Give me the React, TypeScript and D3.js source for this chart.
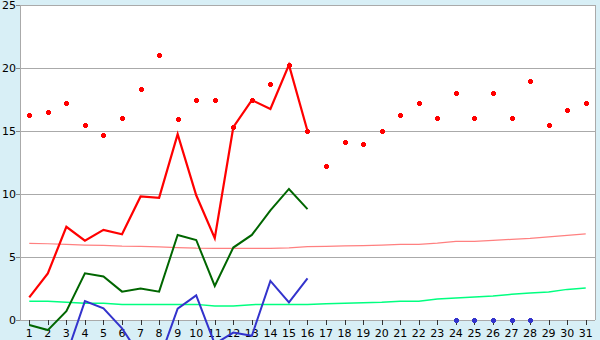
import React from "react";
import * as d3 from "d3";

const days = [1,2,3,4,5,6,7,8,9,10,11,12,13,14,15,16,17,18,19,20,21,22,23,24,25,26,27,28,29,30,31];
const yTicks = [0, 5, 10, 15, 20, 25];

const redPoints = [16.3,16.5,17.2,15.45,14.7,16.0,18.3,21.0,15.95,17.45,17.45,15.3,17.45,18.7,20.2,15.0,12.2,14.1,14.0,15.0,16.3,17.2,16.0,18.0,16.0,18.0,16.0,19.0,15.45,16.7,17.25];
const redLine = [1.8,3.7,7.4,6.3,7.15,6.8,9.8,9.7,14.75,9.9,6.5,15.3,17.45,16.75,20.25,15.0];
const darkGreenLine = [-0.4,-0.8,0.7,3.7,3.45,2.25,2.5,2.25,6.75,6.35,2.7,5.75,6.75,8.7,10.4,8.8];
const blueLine = [-3.5,-3.2,-2.8,1.5,0.93,-0.66,-2.9,-3.2,0.9,1.95,-1.9,-1.0,-1.25,3.1,1.4,3.3];
const pinkLine = [6.08,6.05,6.0,5.95,5.93,5.87,5.85,5.8,5.75,5.7,5.69,5.69,5.69,5.69,5.72,5.82,5.85,5.88,5.9,5.95,6.0,6.0,6.1,6.24,6.24,6.32,6.4,6.48,6.6,6.72,6.83];
const lightGreenLine = [1.48,1.48,1.41,1.32,1.32,1.24,1.24,1.24,1.24,1.24,1.11,1.11,1.22,1.24,1.24,1.24,1.28,1.32,1.36,1.4,1.48,1.48,1.67,1.75,1.83,1.9,2.04,2.14,2.22,2.43,2.54];
const blueDotDays = [24, 25, 26, 27, 28];
const blueDotValues = [0, 0, 0, 0, 0];

const W = 600, H = 340;
const L = 20, R = 595, T = 5, B = 320;

export default function App() {
  const x = d3.scaleBand<number>().domain(days).range([L, R]).padding(0);
  const cx = (d: number) => (x(d) as number) + x.bandwidth() / 2;
  const y = d3.scaleLinear().domain([0, 25]).range([B, T]);

  const mk = (vals: number[]) =>
    d3.line<number>().x((_, i) => cx(days[i])).y((v) => y(v))(vals) || "";

  const plus = (px: number, py: number, color: string, key: string) => {
    const rx = Math.round(px), ry = Math.round(py);
    return (
      <g key={key} fill={color} shapeRendering="crispEdges">
        <rect x={rx - 2} y={ry - 1} width={5} height={3} />
        <rect x={rx - 1} y={ry - 2} width={3} height={5} />
      </g>
    );
  };

  return (
    <svg width={W} height={H} style={{ position: "absolute", left: 0, top: 0 }} fontFamily="DejaVu Sans, Verdana, sans-serif" fontSize={11}>
      <rect x={0} y={0} width={W} height={H} fill="#d8eff6" />
      <rect x={L} y={T} width={R - L} height={B - T} fill="#ffffff" />
      {yTicks.map((t) => (
        <g key={"g" + t} shapeRendering="crispEdges">
          <line x1={L} x2={R} y1={Math.round(y(t)) + 0.5} y2={Math.round(y(t)) + 0.5} stroke="#aaaaaa" />
          <line x1={L - 4} x2={L} y1={Math.round(y(t)) + 0.5} y2={Math.round(y(t)) + 0.5} stroke="#888888" />
        </g>
      ))}
      <line x1={L + 0.5} x2={L + 0.5} y1={T} y2={B} stroke="#aaaaaa" shapeRendering="crispEdges" />
      <line x1={R + 0.5} x2={R + 0.5} y1={T} y2={B} stroke="#aaaaaa" shapeRendering="crispEdges" />
      {yTicks.map((t) => (
        <text key={"t" + t} x={16} y={y(t)} dy="0.36em" textAnchor="end" fill="#000">{t}</text>
      ))}
      {days.map((d) => (
        <g key={"x" + d}>
          <line x1={Math.round(cx(d)) + 0.5} x2={Math.round(cx(d)) + 0.5} y1={B} y2={B + 5} stroke="#333" shapeRendering="crispEdges" />
          <text x={cx(d)} y={337} textAnchor="middle" fill="#000">{d}</text>
        </g>
      ))}
      <path d={mk(pinkLine)} fill="none" stroke="#ff8080" strokeWidth={1.2} />
      <path d={mk(lightGreenLine)} fill="none" stroke="#00ff80" strokeWidth={1.5} />
      <path d={mk(blueLine)} fill="none" stroke="#3333cc" strokeWidth={2} />
      <path d={mk(darkGreenLine)} fill="none" stroke="#006600" strokeWidth={2} />
      <path d={mk(redLine)} fill="none" stroke="#ff0000" strokeWidth={2.2} />
      {redPoints.map((v, i) => plus(cx(days[i]), y(v), "#ff0000", "r" + i))}
      {blueDotDays.map((d, i) => plus(cx(d), y(blueDotValues[i]), "#3333cc", "b" + i))}
    </svg>
  );
}
